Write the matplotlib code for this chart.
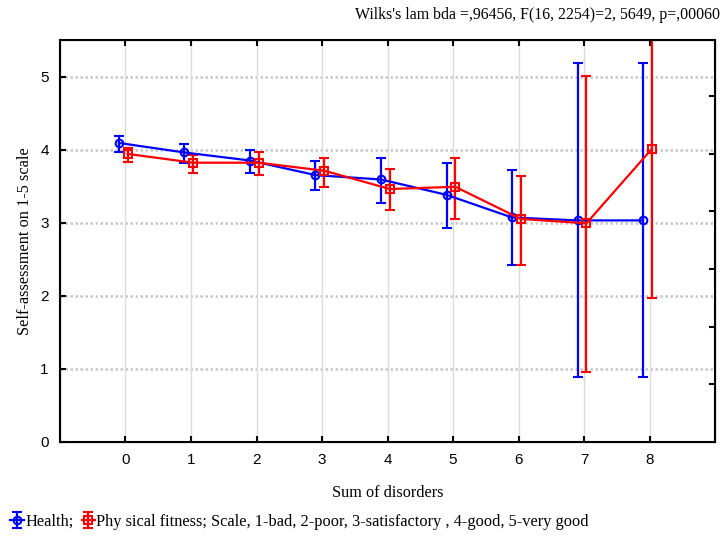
import numpy as np
import matplotlib.pyplot as plt

# sum of disorders
disorders = [0, 1, 2, 3, 4, 5, 6, 7, 8]

# Health: mean and confidence limits
health_mean = [4.09, 3.96, 3.85, 3.65, 3.59, 3.38, 3.07, 3.03, 3.03]
health_low = [3.97, 3.81, 3.68, 3.44, 3.27, 2.93, 2.42, 0.88, 0.88]
health_high = [4.18, 4.08, 3.99, 3.85, 3.88, 3.81, 3.72, 5.18, 5.18]

# Physical fitness: mean and confidence limits
fit_mean = [3.94, 3.82, 3.82, 3.71, 3.46, 3.49, 3.05, 2.99, 4.01]
fit_low = [3.83, 3.68, 3.65, 3.49, 3.17, 3.05, 2.42, 0.96, 1.97]
fit_high = [4.02, 3.93, 3.96, 3.88, 3.74, 3.89, 3.64, 5.01, 6.05]

title_text = "Wilks's lam bda =,96456, F(16, 2254)=2, 5649, p=,00060"
legend_labels = ["Health;", "Phy sical fitness; Scale, 1-bad, 2-poor, 3-satisfactory , 4-good, 5-very good"]

serif = "Liberation Serif"
sans = "Liberation Sans"

fig = plt.figure(figsize=(7.26, 5.37), dpi=100)
ax = fig.add_axes([0.0826, 0.1775, 0.9024, 0.748])

x = np.array(disorders, dtype=float)


def draw(xs, mean, low, high, color, marker):
    mean = np.array(mean)
    err = [mean - np.array(low), np.array(high) - mean]
    return ax.errorbar(xs, mean, yerr=err, color=color, marker=marker, ms=5.5,
                       mfc="none", mec=color, mew=1.5, lw=1.6, elinewidth=1.6,
                       capsize=3.5, capthick=1.6, zorder=3)


h1 = draw(x - 0.1, health_mean, health_low, health_high, "#0000ff", "o")
h2 = draw(x + 0.035, fit_mean, fit_low, fit_high, "#ff0000", "s")

ax.set_xlim(-1, 9)
ax.set_ylim(0, 5.5)
ax.set_xticks(disorders)
ax.set_yticks([0, 1, 2, 3, 4, 5])
for yv in [1, 2, 3, 4, 5]:
    ax.axhline(yv, color="#c8c8c8", lw=1.8, ls=(0, (1, 1)), zorder=1)
for xv in disorders:
    ax.axvline(xv, color="#dcdcdc", lw=1.0, zorder=1)

for sp in ax.spines.values():
    sp.set_linewidth(1.5)
ax.tick_params(direction="in", length=4, width=1.5, top=True, labelsize=11)
for lab in ax.get_xticklabels() + ax.get_yticklabels():
    lab.set_fontfamily(sans)
ax.tick_params(axis="x", pad=8)
ax.tick_params(axis="y", pad=8)

# right axis ticks (no labels)
ax2 = ax.twinx()
ax2.set_ylim(0, 6.98)
ax2.set_yticks([1, 2, 3, 4, 5, 6])
ax2.tick_params(direction="in", length=4, width=1.5, labelright=False)

ax.set_xlabel("Sum of disorders", fontfamily=serif, fontsize=11.7, labelpad=13)
ax.set_ylabel("Self-assessment on 1-5 scale", fontfamily=serif, fontsize=11.7, labelpad=5)
fig.text(0.992, 0.972, title_text, ha="right", va="center", fontfamily=serif, fontsize=11.4)

leg = fig.legend([h1, h2], legend_labels, loc="center left", bbox_to_anchor=(-0.006, 0.028),
                 ncol=2, frameon=False, handlelength=0.8, handletextpad=0.1,
                 columnspacing=0.5, prop={"family": serif, "size": 11.8})

fig.savefig("out.png", dpi=100)
